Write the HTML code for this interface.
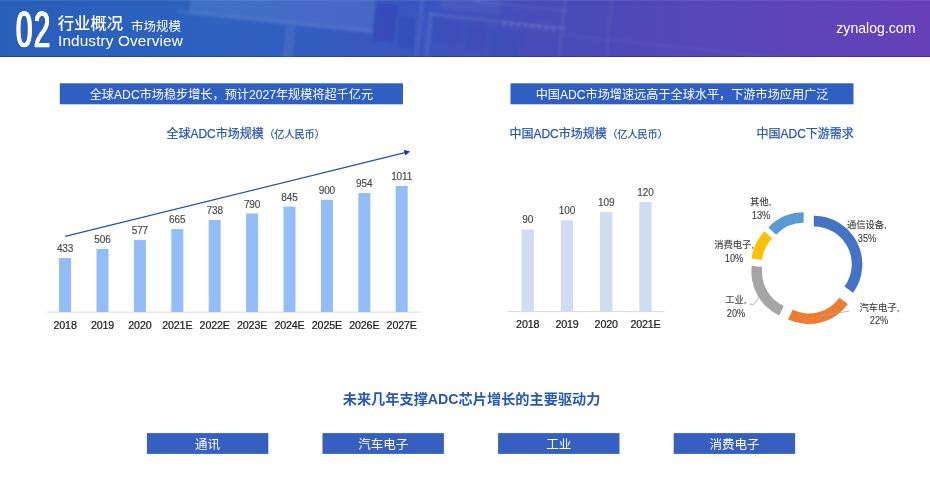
<!DOCTYPE html>
<html lang="zh-CN">
<head>
<meta charset="utf-8">
<title>行业概况 市场规模</title>
<style>
html,body{margin:0;padding:0;background:#fff;}
body{width:930px;height:486px;position:relative;overflow:hidden;font-family:"Liberation Sans", "Noto Sans CJK SC", sans-serif;color:#404040;}
.abs{position:absolute;white-space:nowrap;}
#page{position:absolute;left:0;top:0;width:930px;height:486px;overflow:hidden;will-change:transform;}
#hdr{left:0;top:0;width:930px;height:57px;background:linear-gradient(90deg,#285fb9 0%,#2e61c0 25%,#3a56be 45%,#464cb9 57%,#5747b8 76%,#6540b9 100%);overflow:hidden;box-shadow:inset 0 -1px 0 rgba(10,20,140,0.35), inset 0 1px 0 rgba(255,255,255,0.08);}
.w{color:#fff;}
.banner{height:21px;color:#fff;font-size:12.15px;line-height:21px;text-align:center;}
.ct{color:#2a59ad;-webkit-text-stroke:0.25px #2a59ad;font-size:12px;line-height:18px;}
.ct small{font-size:10.1px;margin-left:0.5px;}
.vl{font-size:10px;letter-spacing:-0.1px;line-height:12px;color:#484848;-webkit-text-stroke:0.15px #484848;text-align:center;width:40px;margin-left:-20px;}
.xl{font-size:10.7px;letter-spacing:-0.15px;line-height:12px;color:#1c1c1c;-webkit-text-stroke:0.22px #1c1c1c;text-align:center;width:44px;margin-left:-22px;}
.dl{font-size:9.3px;line-height:12px;color:#404040;-webkit-text-stroke:0.12px #404040;text-align:center;width:60px;margin-left:-30px;}
.pc{font-size:10px;transform:scaleX(0.92);transform-origin:50% 50%;}
.btn{height:21px;width:121.4px;color:#fff;font-size:12.5px;line-height:21px;text-align:center;top:434.5px;}
</style>
</head>
<body>
<div id="page">

<div id="hdr" class="abs">
<svg class="abs" style="left:0;top:0" width="930" height="57" viewBox="0 0 930 57"><defs><filter id="bl" x="-10%" y="-30%" width="120%" height="160%"><feGaussianBlur stdDeviation="0.9"/></filter></defs><g filter="url(#bl)" transform="rotate(6 330 28)"><rect x="188" y="-40" width="184" height="68" fill="#fff" opacity="0.085"/><rect x="176" y="25" width="196" height="5" fill="#fff" opacity="0.05"/><rect x="206" y="-30" width="56" height="40" fill="#fff" opacity="0.025"/><rect x="286" y="30" width="10" height="40" fill="#fff" opacity="0.07"/><rect x="374" y="-2" width="21" height="38" fill="#2a2fa8" opacity="0.3"/><rect x="398" y="9" width="17" height="31" fill="#2a2fa8" opacity="0.22"/><rect x="417" y="-20" width="4" height="90" fill="#fff" opacity="0.05"/></g><g filter="url(#bl)" transform="rotate(6 500 28)"><rect x="428" y="20" width="136" height="3" fill="#fff" opacity="0.08"/><rect x="470" y="3" width="95" height="2.5" fill="#fff" opacity="0.06"/><rect x="428" y="20" width="3.5" height="50" fill="#fff" opacity="0.07"/><rect x="560" y="-20" width="3.5" height="90" fill="#fff" opacity="0.06"/><rect x="607" y="-20" width="2.5" height="90" fill="#fff" opacity="0.04"/><rect x="563" y="27" width="380" height="2.5" fill="#fff" opacity="0.035"/><rect x="433" y="25" width="30" height="26" fill="#2a2fa8" opacity="0.12"/><rect x="466" y="28" width="22" height="26" fill="#2a2fa8" opacity="0.12"/><rect x="492" y="30" width="30" height="30" fill="#2a2fa8" opacity="0.08"/><rect x="438" y="0" width="60" height="15" fill="#fff" opacity="0.04"/><rect x="502" y="21" width="4" height="4.5" fill="#fff" opacity="0.09"/><rect x="509" y="21" width="4" height="4.5" fill="#fff" opacity="0.09"/><rect x="516" y="21" width="4" height="4.5" fill="#fff" opacity="0.09"/><rect x="523" y="21" width="4" height="4.5" fill="#fff" opacity="0.09"/><rect x="530" y="21" width="4" height="4.5" fill="#fff" opacity="0.09"/><rect x="537" y="21" width="4" height="4.5" fill="#fff" opacity="0.09"/><rect x="544" y="21" width="4" height="4.5" fill="#fff" opacity="0.09"/><rect x="551" y="21" width="4" height="4.5" fill="#fff" opacity="0.09"/></g></svg>
<div class="abs w" id="n02" style="left:16.3px;top:6.0px;font-size:49.9px;line-height:49.9px;letter-spacing:2.5px;transform:scaleX(0.59);transform-origin:0 0;-webkit-text-stroke:0.5px #fff;text-shadow:1.1px 0 0 #fff,-1.1px 0 0 #fff,0.55px 0 0 #fff,-0.55px 0 0 #fff;">02</div>
<div class="abs w" id="t1" style="left:57.7px;top:12.7px;font-size:16.4px;line-height:20px;font-weight:500;">行业概况</div>
<div class="abs w" id="t2" style="left:131px;top:17.9px;font-size:12.5px;line-height:18px;">市场规模</div>
<div class="abs w" id="t3" style="left:58px;top:31px;font-size:15.4px;line-height:20px;letter-spacing:0.1px;">Industry Overview</div>
<div class="abs w" id="t4" style="left:836.3px;top:18.2px;font-size:14.1px;line-height:20px;">zynalog.com</div>
</div>
<div class="abs ct" id="c1" style="left:166.4px;top:125.4px;">全球ADC市场规模<small>（亿人民币）</small></div>
<div class="abs ct" id="c2" style="left:509.4px;top:125.4px;">中国ADC市场规模<small>（亿人民币）</small></div>
<div class="abs ct" id="c3" style="left:756.5px;top:125.4px;">中国ADC下游需求</div>
<div class="abs vl" style="left:65.1px;top:243.0px;">433</div>
<div class="abs xl" style="left:65.1px;top:319px;">2018</div>
<div class="abs vl" style="left:102.5px;top:233.9px;">506</div>
<div class="abs xl" style="left:102.5px;top:319px;">2019</div>
<div class="abs vl" style="left:139.9px;top:225.0px;">577</div>
<div class="abs xl" style="left:139.9px;top:319px;">2020</div>
<div class="abs vl" style="left:177.3px;top:214.1px;">665</div>
<div class="abs xl" style="left:177.3px;top:319px;">2021E</div>
<div class="abs vl" style="left:214.7px;top:205.0px;">738</div>
<div class="abs xl" style="left:214.7px;top:319px;">2022E</div>
<div class="abs vl" style="left:252.1px;top:198.5px;">790</div>
<div class="abs xl" style="left:252.1px;top:319px;">2023E</div>
<div class="abs vl" style="left:289.5px;top:191.6px;">845</div>
<div class="abs xl" style="left:289.5px;top:319px;">2024E</div>
<div class="abs vl" style="left:326.9px;top:184.8px;">900</div>
<div class="abs xl" style="left:326.9px;top:319px;">2025E</div>
<div class="abs vl" style="left:364.3px;top:178.0px;">954</div>
<div class="abs xl" style="left:364.3px;top:319px;">2026E</div>
<div class="abs vl" style="left:401.7px;top:170.9px;">1011</div>
<div class="abs xl" style="left:401.7px;top:319px;">2027E</div>
<svg class="abs" style="left:0;top:0" width="930" height="486" viewBox="0 0 930 486">
<rect x="47" y="311.6" width="374" height="1" fill="#d9d9d9"/><rect x="59.10" y="258.00" width="12" height="54.00" fill="#92bdf8"/><rect x="96.50" y="248.90" width="12" height="63.10" fill="#92bdf8"/><rect x="133.90" y="240.05" width="12" height="71.95" fill="#92bdf8"/><rect x="171.30" y="229.07" width="12" height="82.93" fill="#92bdf8"/><rect x="208.70" y="219.97" width="12" height="92.03" fill="#92bdf8"/><rect x="246.10" y="213.49" width="12" height="98.51" fill="#92bdf8"/><rect x="283.50" y="206.63" width="12" height="105.37" fill="#92bdf8"/><rect x="320.90" y="199.77" width="12" height="112.23" fill="#92bdf8"/><rect x="358.30" y="193.04" width="12" height="118.96" fill="#92bdf8"/><rect x="395.70" y="185.93" width="12" height="126.07" fill="#92bdf8"/>
<line x1="65.1" y1="236.4" x2="405" y2="152.6" stroke="#2352a3" stroke-width="1.1"/><polygon points="410.1,151.4 403.8,149.7 405.3,155.5" fill="#123f99"/>
<path d="M813.84,215.81 A48.5,48.5 0 0 1 853.08,292.82 L844.50,286.59 A37.9,37.9 0 0 0 813.84,226.41 Z" fill="#4472c4"/>
<path d="M848.00,304.06 A48.5,48.5 0 0 1 788.11,319.44 L792.63,309.84 A37.9,37.9 0 0 0 839.43,297.83 Z" fill="#ed7d31"/>
<path d="M779.23,315.59 A48.5,48.5 0 0 1 751.76,265.63 L762.28,266.96 A37.9,37.9 0 0 0 783.74,306.00 Z" fill="#a5a5a5"/>
<path d="M751.53,258.46 A48.5,48.5 0 0 1 764.30,231.34 L772.02,238.59 A37.9,37.9 0 0 0 762.05,259.79 Z" fill="#ffc000"/>
<path d="M768.31,227.45 A48.5,48.5 0 0 1 803.66,212.15 L803.66,222.75 A37.9,37.9 0 0 0 776.03,234.71 Z" fill="#5b9bd5"/>
<polyline points="849.4,311 820.1,315.9" fill="none" stroke="#a6a6a6" stroke-width="0.8"/>
<polyline points="749.2,304.3 754,304.3 759.4,296.9" fill="none" stroke="#a6a6a6" stroke-width="0.8"/>
</svg>
<div class="abs dl" id="l0a" style="left:760.7px;top:195.8px;">其他,</div>
<div class="abs dl pc" id="l0b" style="left:760.7px;top:209.7px;">13%</div>
<div class="abs dl" id="l1a" style="left:866.8px;top:219.2px;">通信设备,</div>
<div class="abs dl pc" id="l1b" style="left:866.8px;top:233.1px;">35%</div>
<div class="abs dl" id="l2a" style="left:734.1px;top:239.0px;">消费电子,</div>
<div class="abs dl pc" id="l2b" style="left:734.1px;top:252.8px;">10%</div>
<div class="abs dl" id="l3a" style="left:735.8px;top:293.8px;">工业,</div>
<div class="abs dl pc" id="l3b" style="left:735.8px;top:307.8px;">20%</div>
<div class="abs dl" id="l4a" style="left:879.4px;top:301.6px;">汽车电子,</div>
<div class="abs dl pc" id="l4b" style="left:879.4px;top:315.0px;">22%</div>
<div class="abs vl" style="left:527.7px;top:214.1px;">90</div>
<div class="abs xl" style="left:527.7px;top:318.2px;">2018</div>
<div class="abs vl" style="left:567.0px;top:205.0px;">100</div>
<div class="abs xl" style="left:567.0px;top:318.2px;">2019</div>
<div class="abs vl" style="left:606.2px;top:196.8px;">109</div>
<div class="abs xl" style="left:606.2px;top:318.2px;">2020</div>
<div class="abs vl" style="left:645.5px;top:186.8px;">120</div>
<div class="abs xl" style="left:645.5px;top:318.2px;">2021E</div>
<svg class="abs" style="left:0;top:0" width="930" height="486" viewBox="0 0 930 486"><rect x="508" y="311.1" width="156.5" height="1" fill="#d9d9d9"/><rect x="521.55" y="229.45" width="12.3" height="82.15" fill="#cfdcf1"/><rect x="560.80" y="220.32" width="12.3" height="91.28" fill="#cfdcf1"/><rect x="600.05" y="212.10" width="12.3" height="99.50" fill="#cfdcf1"/><rect x="639.30" y="202.06" width="12.3" height="109.54" fill="#cfdcf1"/></svg>
<div class="abs" id="bt" style="left:0;width:943.2px;top:388.5px;text-align:center;font-size:14.2px;line-height:20px;font-weight:700;color:#2858b6;">未来几年支撑ADC芯片增长的主要驱动力</div>
<svg class="abs" style="left:0;top:0" width="930" height="486" viewBox="0 0 930 486"><rect x="146.9" y="433.1" width="121.4" height="20.8" fill="#3560c0"/><rect x="322.5" y="433.1" width="121.4" height="20.8" fill="#3560c0"/><rect x="498.1" y="433.1" width="121.4" height="20.8" fill="#3560c0"/><rect x="673.7" y="433.1" width="121.4" height="20.8" fill="#3560c0"/><rect x="59.8" y="83.3" width="343.2" height="21" fill="#2f5fc2"/><rect x="510.5" y="83.3" width="343" height="21" fill="#2f5fc2"/></svg>
<div class="abs banner" id="b1" style="left:59.8px;top:84.8px;width:343.2px;">全球ADC市场稳步增长，预计2027年规模将超千亿元</div>
<div class="abs banner" id="b2" style="left:510.5px;top:84.8px;width:343px;">中国ADC市场增速远高于全球水平，下游市场应用广泛</div>
<div class="abs btn" style="left:146.9px;">通讯</div>
<div class="abs btn" style="left:322.5px;">汽车电子</div>
<div class="abs btn" style="left:498.1px;">工业</div>
<div class="abs btn" style="left:673.7px;">消费电子</div>
</div>
</body>
</html>
